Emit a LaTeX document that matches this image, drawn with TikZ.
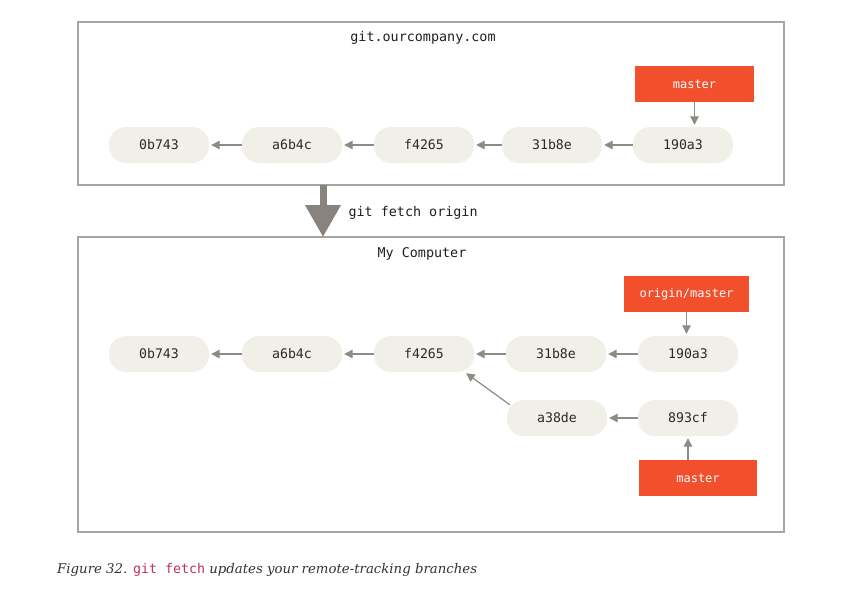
\documentclass[tikz,border=0pt]{standalone}
\usepackage{fontspec}
\setmainfont{DejaVu Serif}
\setmonofont{DejaVu Sans Mono}
\usetikzlibrary{arrows.meta}
\definecolor{commitfill}{HTML}{F0EFE8}
\definecolor{linkgray}{HTML}{8F8A83}
\definecolor{framegray}{HTML}{A8A59F}
\definecolor{branchred}{HTML}{F24F2C}
\definecolor{labeltext}{HTML}{2A2A2A}
\definecolor{codepink}{HTML}{C0305A}
\tikzset{
  commit/.style={fill=commitfill, rounded corners=17pt, minimum width=100pt,
    minimum height=36pt, inner sep=0pt, font=\ttfamily\fontsize{13.2}{15}\selectfont,
    text=labeltext},
  branch/.style={fill=branchred, minimum height=36pt, inner sep=0pt,
    font=\ttfamily\fontsize{12}{14}\selectfont, text=white},
  frame/.style={draw=framegray, line width=1.2pt, inner sep=0pt},
  boxtitle/.style={font=\ttfamily\fontsize{13.4}{15}\selectfont, text=black!88},
  link/.style={draw=linkgray, line width=1.2pt, -{Triangle[length=8.5pt,width=8.5pt]}, shorten >=2pt},
}
\begin{document}
\begin{tikzpicture}[x=1pt, y=-1pt]
\useasboundingbox (0,0) rectangle (857,590);

% remote repository
\node[frame, minimum width=706pt, minimum height=163pt] (server) at (431,103.5) {};
\node[boxtitle] (servertitle) at (423,37.5) {git.ourcompany.com};
\node[commit] (s1) at (159,145) {0b743};
\node[commit] (s2) at (292,145) {a6b4c};
\node[commit] (s3) at (424,145) {f4265};
\node[commit] (s4) at (552,145) {31b8e};
\node[commit] (s5) at (683,145) {190a3};
\node[branch, minimum width=119pt] (smaster) at (694.5,84) {master};
\draw[link] (s2) -- (s1);
\draw[link] (s3) -- (s2);
\draw[link] (s4) -- (s3);
\draw[link] (s5) -- (s4);
\draw[link] (smaster.south) -- (smaster.south |- s5.north);

% local repository
\node[frame, minimum width=706pt, minimum height=295pt] (local) at (431,384.5) {};
\node[boxtitle] (localtitle) at (422,253.5) {My Computer};
\node[commit] (l1) at (159,354) {0b743};
\node[commit] (l2) at (292,354) {a6b4c};
\node[commit] (l3) at (424,354) {f4265};
\node[commit] (l4) at (556,354) {31b8e};
\node[commit] (l5) at (688,354) {190a3};
\node[commit] (l6) at (557,418) {a38de};
\node[commit] (l7) at (688,418) {893cf};
\node[branch, minimum width=125pt] (origmaster) at (686.5,294) {origin/master};
\node[branch, minimum width=118pt] (lmaster) at (698,478) {master};
\draw[link] (l2) -- (l1);
\draw[link] (l3) -- (l2);
\draw[link] (l4) -- (l3);
\draw[link] (l5) -- (l4);
\draw[link] (l7) -- (l6);
\path (l6.north west) ++(3,5) coordinate (a38tail);
\path (l3.south east) ++(-8,1) coordinate (f42head);
\draw[link, shorten >=0pt] (a38tail) -- (f42head);
\draw[link] (origmaster.south) -- (origmaster.south |- l5.north);
\draw[link] (lmaster.north -| l7.south) -- (l7.south);

% fetch arrow
\coordinate (fetchtop) at (323,185);
\coordinate (fetchbot) at (323,237);
\draw[draw=linkgray!95!black, line width=7pt, -{Triangle[length=32pt,width=34pt]}]
  (fetchtop) -- (fetchbot);
\node[boxtitle, anchor=west] (fetchlabel) at (345,213) {git fetch origin};

% caption
\node[anchor=west, inner sep=0pt, font=\fontsize{13.3}{15}\selectfont, text=black!80] (caption) at (57,570)
  {\itshape Figure 32. \textcolor{codepink}{\upshape\ttfamily git fetch} updates your remote-tracking branches};
\end{tikzpicture}
\end{document}
